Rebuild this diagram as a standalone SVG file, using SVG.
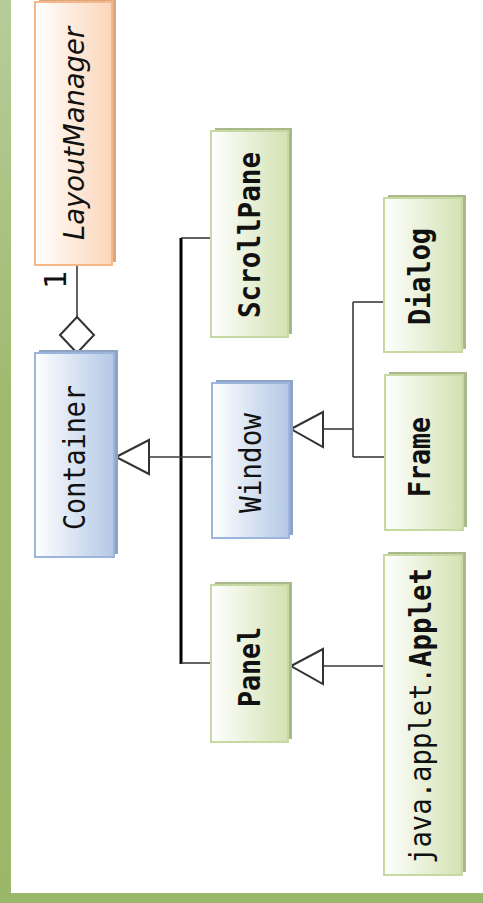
<svg xmlns="http://www.w3.org/2000/svg" width="483" height="903" viewBox="0 0 483 903">
<defs>
<linearGradient id="gFrame" x1="0" y1="0" x2="0" y2="1">
<stop offset="0" stop-color="#b6cd9a"/><stop offset="0.45" stop-color="#9eba6e"/><stop offset="1" stop-color="#9bb76a"/>
</linearGradient>
<linearGradient id="gOrange" x1="0" y1="0" x2="1" y2="0">
<stop offset="0" stop-color="#ffffff"/><stop offset="1" stop-color="#fbd5b8"/>
</linearGradient>
<linearGradient id="gBlue" x1="0" y1="0" x2="1" y2="0">
<stop offset="0" stop-color="#ffffff"/><stop offset="1" stop-color="#b3c8e6"/>
</linearGradient>
<linearGradient id="gGreen" x1="0" y1="0" x2="1" y2="0">
<stop offset="0" stop-color="#ffffff"/><stop offset="1" stop-color="#d3e2b2"/>
</linearGradient>
</defs>
<style>
.sh-o{fill:#d9a880}
.sh-b{fill:#8ea4c4}
.sh-g{fill:#aab98c}
.bo{fill:url(#gOrange);stroke:#f6b88a;stroke-width:2}
.bb{fill:url(#gBlue);stroke:#9bb5dc;stroke-width:2}
.bg{fill:url(#gGreen);stroke:#c6d9a2;stroke-width:2}
.t{font-family:"DejaVu Sans Mono","Liberation Mono",monospace;font-size:30px;fill:#111}
.b{font-weight:bold}
.it{font-family:"DejaVu Sans","Liberation Sans",sans-serif;font-style:italic;font-size:28px;fill:#111}
.c{stroke:#3a3a3a;stroke-width:1.6;fill:none}
.trunk{stroke:#000;stroke-width:3;fill:none}
.hd{fill:#fff;stroke:#333;stroke-width:2}
</style>
<rect x="0" y="0" width="11" height="903" fill="url(#gFrame)"/>
<rect x="0" y="893" width="483" height="10" fill="#9bb76a"/>

<g id="connectors">
<line class="c" x1="77" y1="265" x2="77" y2="317"/>
<polygon class="hd" points="77,317 94,335 77,353 60,335"/>
<line class="trunk" x1="181" y1="238" x2="181" y2="664"/>
<line class="c" x1="181" y1="238" x2="211" y2="238"/>
<line class="c" x1="181" y1="663" x2="211" y2="663"/>
<line class="c" x1="149" y1="457" x2="212" y2="457"/>
<polygon class="hd" points="116,457 149,440 149,474"/>
<line class="c" x1="323" y1="429" x2="353" y2="429"/>
<line class="c" x1="353" y1="302" x2="353" y2="457"/>
<line class="c" x1="353" y1="302" x2="384" y2="302"/>
<line class="c" x1="353" y1="457" x2="385" y2="457"/>
<polygon class="hd" points="291,429 323,412 323,447"/>
<line class="c" x1="323" y1="666" x2="384" y2="666"/>
<polygon class="hd" points="291,666 323,649 323,684"/>
<text class="t" transform="translate(66,280) rotate(-90)" text-anchor="middle">1</text>
</g>

<g id="LayoutManager">
<rect class="sh-o" x="39" y="-1" width="77" height="263"/>
<rect class="bo" x="35" y="2" width="77" height="263"/>
<text class="it" transform="translate(84,133.5) rotate(-90)" text-anchor="middle" textLength="213" lengthAdjust="spacingAndGlyphs">LayoutManager</text>
</g>

<g id="Container">
<rect class="sh-b" x="39" y="350" width="79" height="204"/>
<rect class="bb" x="35" y="353" width="79" height="204"/>
<text class="t" transform="translate(85,457.5) rotate(-90)" text-anchor="middle" textLength="145" lengthAdjust="spacingAndGlyphs">Container</text>
</g>

<g id="ScrollPane">
<rect class="sh-g" x="215" y="128" width="77" height="206"/>
<rect class="bg" x="211" y="131" width="77" height="206"/>
<text class="t b" transform="translate(260,235) rotate(-90)" text-anchor="middle" textLength="166" lengthAdjust="spacingAndGlyphs">ScrollPane</text>
</g>

<g id="Window">
<rect class="sh-b" x="216" y="380" width="77" height="155"/>
<rect class="bb" x="212" y="383" width="77" height="155"/>
<text class="t" transform="translate(261,463) rotate(-90)" text-anchor="middle" textLength="100" lengthAdjust="spacingAndGlyphs">Window</text>
</g>

<g id="Panel">
<rect class="sh-g" x="215" y="582" width="77" height="157"/>
<rect class="bg" x="211" y="585" width="77" height="157"/>
<text class="t b" transform="translate(260,667) rotate(-90)" text-anchor="middle" textLength="80" lengthAdjust="spacingAndGlyphs">Panel</text>
</g>

<g id="Dialog">
<rect class="sh-g" x="388" y="195" width="78" height="154"/>
<rect class="bg" x="384" y="198" width="78" height="154"/>
<text class="t b" transform="translate(430,276.5) rotate(-90)" text-anchor="middle" textLength="97" lengthAdjust="spacingAndGlyphs">Dialog</text>
</g>

<g id="Frame">
<rect class="sh-g" x="389" y="372" width="78" height="155"/>
<rect class="bg" x="385" y="375" width="78" height="155"/>
<text class="t b" transform="translate(430,457) rotate(-90)" text-anchor="middle" textLength="80" lengthAdjust="spacingAndGlyphs">Frame</text>
</g>

<g id="Applet">
<rect class="sh-g" x="388" y="552" width="78" height="320"/>
<rect class="bg" x="384" y="555" width="78" height="320"/>
<text class="t" transform="translate(431,864) rotate(-90)" textLength="197" lengthAdjust="spacingAndGlyphs">java.applet.</text>
<text class="t b" transform="translate(431,667) rotate(-90)" textLength="99" lengthAdjust="spacingAndGlyphs">Applet</text>
</g>
</svg>
